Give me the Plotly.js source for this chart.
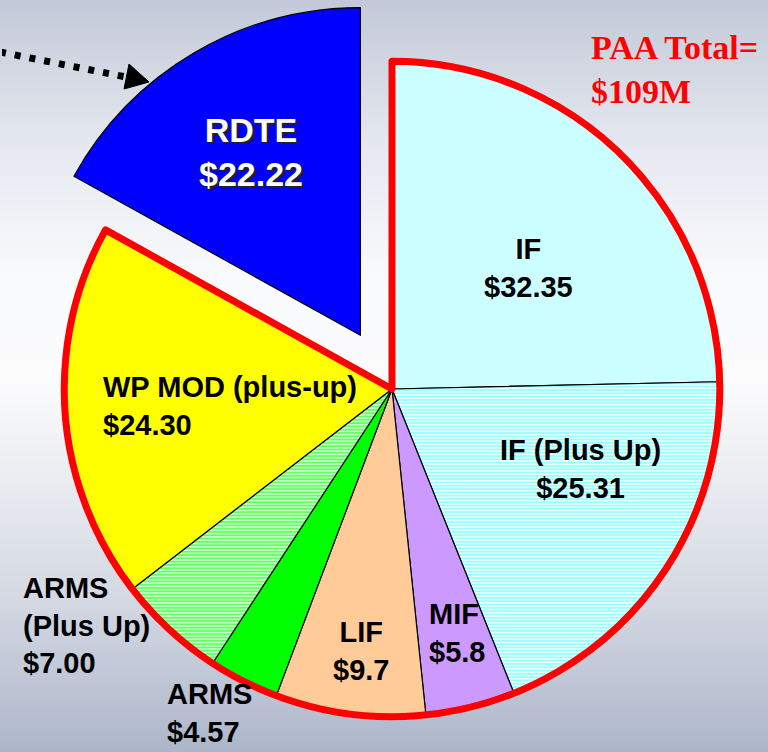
<!DOCTYPE html>
<html><head><meta charset="utf-8">
<script src="https://cdn.plot.ly/plotly-3.0.1.min.js"></script>
<style>
html,body{margin:0;padding:0;width:768px;height:752px;overflow:hidden;}
body{background:linear-gradient(to bottom,#c3c9d8 0%,#e6e9f0 20%,#fafbfd 38%,#fcfcfd 50%,#eceef2 62%,#d3d8e2 80%,#adb6ca 100%);}
#chart{position:absolute;left:2px;top:-1px;width:780px;height:780px;}
</style></head><body><div id="chart"></div>
<script>
// ---- data ----
const categories = ['IF','IF (Plus Up)','MIF','LIF','ARMS','ARMS (Plus Up)','WP MOD (plus-up)','RDTE'];
const amounts = [32.35, 25.31, 5.8, 9.7, 4.57, 7.00, 24.30, 22.22];
const amountLabels = ['$32.35','$25.31','$5.8','$9.7','$4.57','$7.00','$24.30','$22.22'];
const labelLines = [['IF'],['IF (Plus Up)'],['MIF'],['LIF'],['ARMS'],['ARMS','(Plus Up)'],['WP MOD (plus-up)'],['RDTE']];
const totalLines = ['PAA Total=','$109M'];

// ---- styles ----
const sliceColors = ['#ccffff','#ffffff','#cc99ff','#ffcc99','#00ff00','#e0ffe0','#ffff00','#0000ff'];
const patShapes  = ['','-','','','','-','',''];
const patFg      = ['#000','#99ffff','#000','#000','#000','#66ff66','#000','#000'];
const pulls      = [0,0,0,0,0,0,0,0.19];
const labelPos = [
  {x:528,y:268,align:'center'},
  {x:580,y:469,align:'center'},
  {x:427,y:633,align:'left'},
  {x:361,y:651,align:'center'},
  {x:165,y:713,align:'left'},
  {x:21, y:625,align:'left'},
  {x:101,y:406,align:'left'},
  {x:251,y:152,align:'center',color:'#ffffff',size:34,shadow:'2px 2px 1px #222'}
];
const L = 2, T = -1, S = 780;
const px = x => (x - L) / S;
const py = y => 1 - (y - T) / S;

const mainPie = {
  type:'pie', labels:categories, values:amounts, sort:false, direction:'clockwise', rotation:0,
  pull:pulls, textinfo:'none', hoverinfo:'label+value',
  marker:{colors:sliceColors, line:{color:'#000000', width:1.2},
    pattern:{shape:patShapes, fgcolor:patFg, bgcolor:sliceColors, size:3.3, solidity:0.62}}
};
const restTotal = amounts.slice(0, amounts.length-1).reduce((a,b)=>a+b,0);
const outlinePie = {
  type:'pie', labels:['PAA','RDTE '], values:[restTotal, amounts[amounts.length-1]], sort:false,
  direction:'clockwise', rotation:0, pull:[0,pulls[pulls.length-1]], textinfo:'none', hoverinfo:'skip',
  marker:{colors:['rgba(0,0,0,0)','rgba(0,0,0,0)'], line:{color:['#ff0000','rgba(0,0,0,0)'], width:[7,0]}}
};

const annotations = categories.map((c,i)=>{
  const p = labelPos[i];
  const txt = labelLines[i].concat([amountLabels[i]]).map(s=>'<b>'+s+'</b>').join('<br>');
  const f = {family:'Liberation Sans, Arial, sans-serif', size:p.size||29, color:p.color||'#000000'};
  if (p.shadow) f.shadow = p.shadow;
  return {xref:'paper', yref:'paper', x:px(p.x), y:py(p.y), xanchor:p.align==='left'?'left':'center',
    yanchor:'middle', align:p.align, showarrow:false, text:txt, font:f};
});
annotations.push({xref:'paper', yref:'paper', x:px(589), y:py(69), xanchor:'left', yanchor:'middle', align:'left',
  showarrow:false, text:totalLines.map(s=>'<b>'+s+'</b>').join('<br>'),
  font:{family:'Liberation Serif, Times New Roman, serif', size:34, color:'#ff0000'}});

const shapes = [
  {type:'line', xref:'paper', yref:'paper', x0:px(0), y0:py(52), x1:px(126), y1:py(77),
   line:{color:'#000000', width:7, dash:'6px,9px'}},
  {type:'path', xref:'paper', yref:'paper',
   path:`M${px(129)},${py(64)} L${px(149)},${py(82)} L${px(124)},${py(89)} Z`,
   fillcolor:'#000000', line:{color:'#000000', width:1}}
];

Plotly.newPlot('chart', [mainPie, outlinePie], {
  width:S, height:S, margin:{l:0,r:0,t:0,b:0}, showlegend:false,
  paper_bgcolor:'rgba(0,0,0,0)', plot_bgcolor:'rgba(0,0,0,0)',
  annotations:annotations, shapes:shapes
}, {staticPlot:true});
</script></body></html>
